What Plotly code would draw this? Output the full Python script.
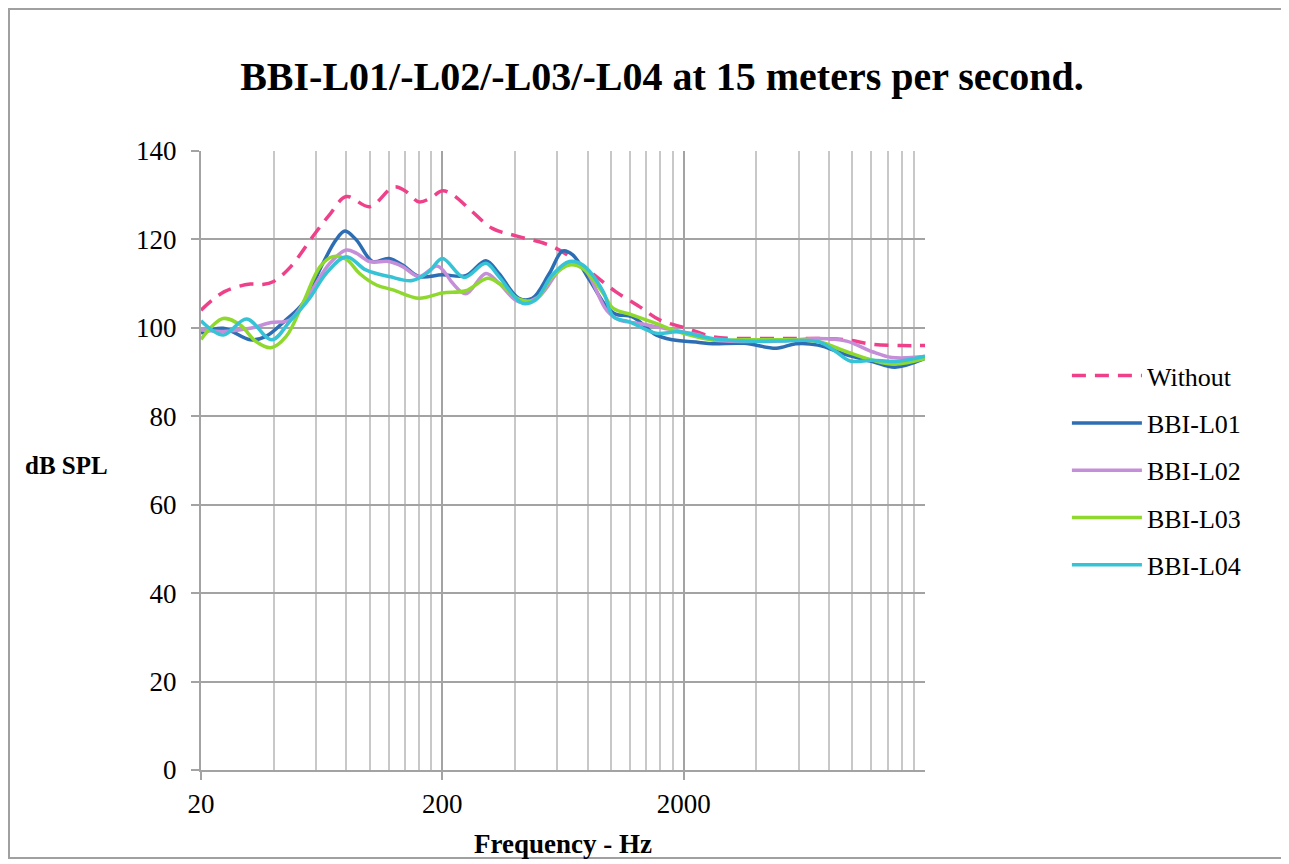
import plotly.graph_objects as go

# ---- data ----
freq_without = [20, 25, 32, 36, 40, 47, 58, 68, 80, 100, 126, 140, 160, 178, 200, 221, 266, 322, 404, 555, 694, 836, 1045, 1311, 1590, 2055, 2628, 3352, 4418, 5640, 7200, 9470, 12100, 15960, 20000]
spl_without = [104.0, 108.2, 109.9, 109.8, 110.5, 113.8, 120.6, 125.5, 129.7, 127.4, 131.9, 131.0, 128.5, 129.3, 131.0, 130.1, 126.3, 122.5, 120.8, 118.7, 115.7, 112.3, 108.2, 104.8, 101.8, 99.9, 98.0, 97.6, 97.6, 97.6, 97.6, 97.3, 96.3, 96.0, 96.0]

freq_l01 = [20, 24.7, 32, 37, 45, 53, 64, 72.5, 79, 88, 103, 120, 137, 160, 200, 250, 303, 343, 415, 472, 555, 631, 694, 815, 958, 1045, 1228, 1536, 1800, 2315, 2628, 3560, 4840, 5830, 7200, 9470, 12100, 15000, 20000]
spl_l01 = [98.8, 99.9, 97.3, 98.0, 101.8, 105.6, 114.6, 119.9, 121.9, 119.9, 115.0, 115.7, 114.2, 111.6, 112.0, 111.8, 115.2, 112.3, 106.7, 106.7, 112.3, 117.4, 116.5, 110.8, 104.8, 103.1, 102.5, 98.4, 97.3, 96.7, 96.4, 96.5, 95.4, 96.4, 96.1, 93.9, 92.4, 91.1, 93.1]

freq_l02 = [20, 24.7, 32, 39, 46.6, 56.4, 68.4, 80, 88, 100, 120.5, 137.5, 160, 190, 205, 220, 250, 303, 343, 415, 503, 651, 764, 958, 1080, 1311, 1800, 2315, 2628, 4840, 7200, 9470, 12100, 14560, 20000]
spl_l02 = [99.5, 99.2, 99.9, 101.2, 101.8, 107.8, 114.6, 117.6, 116.9, 115.0, 115.0, 113.8, 111.6, 114.0, 112.5, 110.2, 107.7, 112.3, 110.1, 105.9, 107.1, 114.6, 113.8, 104.0, 101.8, 101.0, 99.5, 98.4, 97.3, 97.0, 97.6, 97.0, 94.6, 93.3, 93.5]

freq_l03 = [20, 24.7, 29, 33.8, 39, 45, 52.9, 62.2, 70.3, 80, 90.8, 106.6, 124.9, 160, 200, 250, 308, 343, 415, 486, 572, 672, 764, 928, 1022, 1228, 1536, 1900, 2628, 3560, 4840, 7200, 9470, 12100, 15000, 20000]
spl_l03 = [97.4, 102.1, 100.7, 96.9, 95.5, 98.0, 105.6, 113.8, 116.1, 115.5, 112.3, 109.7, 108.6, 106.7, 107.9, 108.4, 111.2, 110.1, 106.5, 106.3, 111.6, 114.2, 113.4, 107.8, 104.4, 102.9, 101.0, 99.1, 97.3, 97.3, 97.3, 96.9, 94.6, 92.7, 91.8, 93.1]

freq_l04 = [20, 24.7, 30.9, 39.3, 46.6, 56.4, 66, 80, 96.4, 120.5, 150, 176, 200, 246, 303, 343, 428, 486, 572, 672, 764, 928, 1022, 1187, 1536, 1900, 2628, 3560, 4840, 7200, 8360, 9790, 12100, 15000, 20000]
spl_l04 = [101.6, 98.4, 102.0, 97.3, 101.4, 106.7, 112.3, 116.1, 113.1, 111.6, 110.7, 112.7, 115.7, 111.4, 114.6, 111.6, 105.6, 106.3, 112.0, 115.0, 114.2, 108.2, 102.5, 101.4, 98.8, 99.1, 97.6, 97.0, 97.0, 96.9, 95.0, 92.5, 92.7, 92.4, 93.6]

series_names = ["Without", "BBI-L01", "BBI-L02", "BBI-L03", "BBI-L04"]
series_colors = ["#ee4189", "#2d6db3", "#c58ed8", "#8fd82e", "#36c3d6"]

x_major_ticks = [20, 200, 2000]
x_tick_labels = ["20", "200", "2000"]
x_minor_grid = [m * 20 * 10 ** d for d in range(3) for m in range(2, 10)]
y_ticks = [0, 20, 40, 60, 80, 100, 120, 140]

title_text = "BBI-L01/-L02/-L03/-L04 at 15 meters per second."
x_title = "Frequency - Hz"
y_title = "dB SPL"

FONT = "Liberation Serif"
W, H = 1289, 864
ML, MT, PW, PH = 193, 143, 724, 619   # plot area in figure pixels

fig = go.Figure()
data = [(freq_without, spl_without), (freq_l01, spl_l01), (freq_l02, spl_l02),
        (freq_l03, spl_l03), (freq_l04, spl_l04)]
for i, ((fx, fy), name, color) in enumerate(zip(data, series_names, series_colors)):
    fig.add_trace(go.Scatter(
        x=fx, y=fy, name=name, mode="lines",
        line=dict(color=color, width=3.5, shape="spline", smoothing=1.0,
                  dash="14px,9px" if i == 0 else "solid"),
        legendgroup=name,
    ))

fig.update_layout(
    width=W, height=H,
    margin=dict(l=ML, r=W - ML - PW, t=MT, b=H - MT - PH),
    paper_bgcolor="white", plot_bgcolor="white",
    font=dict(family=FONT, color="black", size=26),
    title=dict(text="<b>" + title_text + "</b>", x=654 / W, xanchor="center",
               xref="container", y=1 - 68 / H, yref="container", yanchor="middle",
               font=dict(family=FONT, size=40, color="black")),
    showlegend=True,
    legend=dict(x=1.196, xanchor="left", y=0.675, yanchor="top",
                font=dict(family=FONT, size=26, color="black"),
                bgcolor="rgba(0,0,0,0)", tracegroupgap=10.5, itemwidth=70),
)

fig.update_xaxes(
    type="log", range=[1.30103, 4.30103],
    tickmode="array", tickvals=x_major_ticks, ticktext=x_tick_labels,
    showgrid=True, gridcolor="#a3a3a3", gridwidth=2,
    minor=dict(tickmode="array", tickvals=x_minor_grid, showgrid=True,
               gridcolor="#c8c8c8", gridwidth=2, ticks=""),
    ticks="outside", ticklen=8, tickwidth=2, tickcolor="#a3a3a3",
    showline=True, linecolor="#a3a3a3", linewidth=2,
    ticklabelstandoff=1,
    tickfont=dict(family=FONT, size=27, color="black"),
    zeroline=False,
)
fig.update_yaxes(
    range=[0, 140], tickmode="array", tickvals=y_ticks,
    showgrid=True, gridcolor="#a3a3a3", gridwidth=2,
    ticks="outside", ticklen=8, tickwidth=2, tickcolor="#a3a3a3",
    showline=True, linecolor="#a3a3a3", linewidth=2,
    ticklabelstandoff=9,
    tickfont=dict(family=FONT, size=27, color="black"),
    zeroline=False,
)

fig.add_annotation(text="<b>" + x_title + "</b>", xref="paper", yref="paper",
                   x=0.5, y=-(844 - 770) / PH, xanchor="center", yanchor="middle",
                   showarrow=False, font=dict(family=FONT, size=27, color="black"))
fig.add_annotation(text="<b>" + y_title + "</b>", xref="paper", yref="paper",
                   x=(66 - 201) / PW, y=(770 - 465) / PH, xanchor="center", yanchor="middle",
                   showarrow=False, font=dict(family=FONT, size=25, color="black"))

# outer chart border (figure pixel coords converted to paper coords)
bx0, bx1, by0, by1 = 1, 1275, 1, 850
fig.add_shape(type="rect", xref="paper", yref="paper",
              x0=(bx0 - ML) / PW, x1=(bx1 - ML) / PW,
              y0=(MT + PH - by1) / PH, y1=(MT + PH - by0) / PH,
              line=dict(color="#a0a0a0", width=2), fillcolor="rgba(0,0,0,0)", layer="below")

fig.write_html("out.html")
